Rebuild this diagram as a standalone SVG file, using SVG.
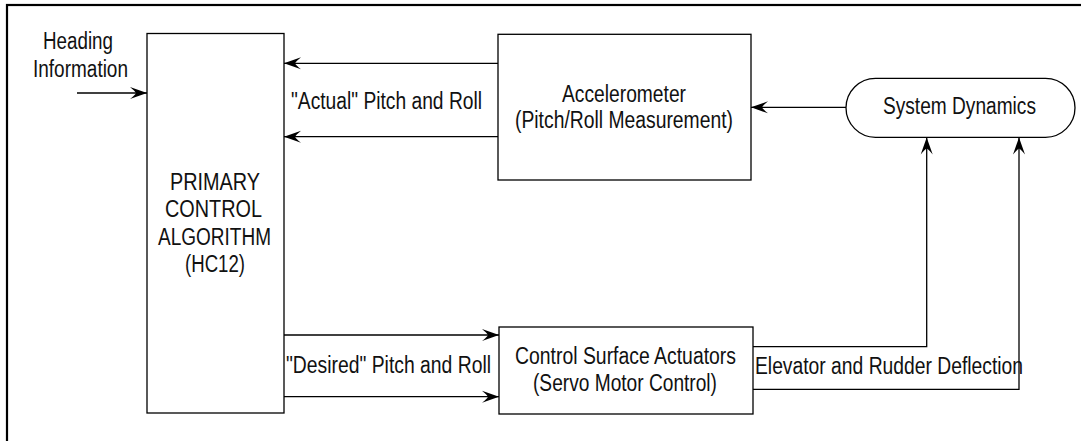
<svg xmlns="http://www.w3.org/2000/svg" width="1081" height="441" viewBox="0 0 1081 441">
<style>
.box{fill:#fff;stroke:#000;stroke-width:1.3}
.ln{fill:none;stroke:#000;stroke-width:1.3}
text{font-family:"Liberation Sans",Arial,Helvetica,sans-serif;font-size:23px;fill:#111}
</style>
<defs>
<marker id="ah" viewBox="-18 -7 19 14" refX="0" refY="0" markerWidth="19" markerHeight="14" markerUnits="userSpaceOnUse" orient="auto">
<path d="M0,0 L-17,-6 Q-12,-2 -11,0 Q-12,2 -17,6 Z" fill="#000"/>
</marker>
</defs>
<rect x="0" y="0" width="1081" height="441" fill="#fff"/>
<rect x="7" y="5" width="1100" height="460" fill="none" stroke="#000" stroke-width="2.2"/>
<g id="heading">
<text x="43" y="49" textLength="70" lengthAdjust="spacingAndGlyphs">Heading</text>
<text x="33" y="77" textLength="95" lengthAdjust="spacingAndGlyphs">Information</text>
</g>
<g id="primary">
<rect class="box" x="147" y="33.5" width="137" height="379.5"/>
<text x="170" y="189.5" textLength="90" lengthAdjust="spacingAndGlyphs">PRIMARY</text>
<text x="165" y="217" textLength="97" lengthAdjust="spacingAndGlyphs">CONTROL</text>
<text x="158" y="244.5" textLength="113" lengthAdjust="spacingAndGlyphs">ALGORITHM</text>
<text x="185" y="272" textLength="60" lengthAdjust="spacingAndGlyphs">(HC12)</text>
</g>
<g id="accelerometer">
<rect class="box" x="498" y="34.3" width="253" height="145.7"/>
<text x="562" y="101.5" textLength="124" lengthAdjust="spacingAndGlyphs">Accelerometer</text>
<text x="515" y="128" textLength="218" lengthAdjust="spacingAndGlyphs">(Pitch/Roll Measurement)</text>
</g>
<g id="dynamics">
<rect class="box" x="846" y="78.3" width="229" height="59" rx="29.5" ry="29.5"/>
<text x="883" y="114" textLength="153" lengthAdjust="spacingAndGlyphs">System Dynamics</text>
</g>
<g id="actuators">
<rect class="box" x="499" y="327" width="254" height="87"/>
<text x="515" y="363.5" textLength="221" lengthAdjust="spacingAndGlyphs">Control Surface Actuators</text>
<text x="533" y="390.5" textLength="184" lengthAdjust="spacingAndGlyphs">(Servo Motor Control)</text>
</g>
<g id="connectors">
<line class="ln" x1="77" y1="93" x2="147" y2="93" marker-end="url(#ah)"/>
<line class="ln" x1="498" y1="63.3" x2="284" y2="63.3" marker-end="url(#ah)"/>
<line class="ln" x1="498" y1="136.7" x2="284" y2="136.7" marker-end="url(#ah)"/>
<line class="ln" x1="846" y1="107.3" x2="751" y2="107.3" marker-end="url(#ah)"/>
<line class="ln" x1="284" y1="335" x2="499" y2="335" marker-end="url(#ah)"/>
<line class="ln" x1="284" y1="396.7" x2="499" y2="396.7" marker-end="url(#ah)"/>
<polyline class="ln" points="753,346.7 926.7,346.7 926.7,137.5" marker-end="url(#ah)"/>
<polyline class="ln" points="753,389.3 1019,389.3 1019,137.5" marker-end="url(#ah)"/>
</g>
<g id="labels">
<text x="291" y="108.5" textLength="191" lengthAdjust="spacingAndGlyphs">"Actual" Pitch and Roll</text>
<text x="286" y="372.5" textLength="205" lengthAdjust="spacingAndGlyphs">"Desired" Pitch and Roll</text>
<text x="755" y="374" textLength="268" lengthAdjust="spacingAndGlyphs">Elevator and Rudder Deflection</text>
</g>
</svg>
